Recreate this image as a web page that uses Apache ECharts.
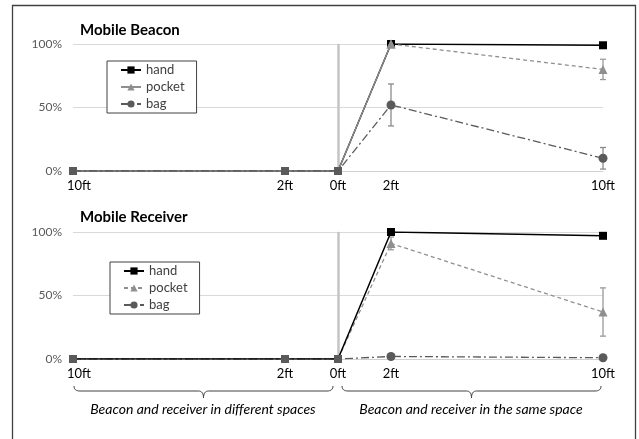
<!DOCTYPE html>
<html>
<head>
<meta charset="utf-8">
<script src="https://cdn.jsdelivr.net/npm/echarts@6/dist/echarts.min.js"></script>
<style>html,body{margin:0;padding:0;background:#fff;}#c{width:639px;height:439px;}</style>
</head>
<body>
<div id="c"></div>
<script>
// ---- data ----
const xVals = [-10, -2, 0, 2, 10];
const tickLabels = ['10ft', '2ft', '0ft', '2ft', '10ft'];
const yTicks = [0, 50, 100];
const seriesNames = ['hand', 'pocket', 'bag'];

const beaconHand = [0, 0, 0, 100, 99];
const beaconPocket = [0, 0, 0, 100, 80];
const beaconBag = [0, 0, 0, 52, 10];
const beaconPocketErr = [0, 0, 0, 0, 8];
const beaconBagErr = [0, 0, 0, 16.5, 8.5];

const receiverHand = [0, 0, 0, 100, 97];
const receiverPocket = [0, 0, 0, 91, 37];
const receiverBag = [0, 0, 0, 2, 1];
const receiverPocketErr = [0, 0, 0, 5, 19];
const receiverBagErr = [0, 0, 0, 0, 0];

const titles = ['Mobile Beacon', 'Mobile Receiver'];
const groupLabels = ['Beacon and receiver in different spaces', 'Beacon and receiver in the same space'];

// ---- styles ----
const FONT = 'Lato, "Open Sans", sans-serif';
const C_HAND = '#000000', C_POCKET = '#8f8f8f', C_BAG = '#5a5a5a', C_SEP = '#5a5a5a';

function pts(vals, idxFrom, idxTo, hideSep, sepColor) {
  const out = [];
  for (let i = idxFrom; i <= idxTo; i++) {
    const d = { value: [xVals[i], vals[i]] };
    if (xVals[i] <= 0) {
      if (hideSep) d.symbol = 'none';
      else if (sepColor) d.itemStyle = { color: sepColor };
    }
    out.push(d);
  }
  return out;
}
function errData(vals, errs) {
  const out = [];
  xVals.forEach((x, i) => { if (errs[i] > 0) out.push([x, vals[i] - errs[i], vals[i] + errs[i]]); });
  return out;
}
function errSeries(idx, vals, errs, color) {
  return {
    type: 'custom', xAxisIndex: idx, yAxisIndex: idx, z: 1,
    data: errData(vals, errs),
    renderItem: function (params, api) {
      const x = api.value(0);
      const lo = api.coord([x, api.value(1)]);
      const hi = api.coord([x, api.value(2)]);
      const w = 3;
      const st = { stroke: color, lineWidth: 1.3 };
      return { type: 'group', children: [
        { type: 'line', shape: { x1: lo[0], y1: lo[1], x2: hi[0], y2: hi[1] }, style: st },
        { type: 'line', shape: { x1: lo[0] - w, y1: lo[1], x2: lo[0] + w, y2: lo[1] }, style: st },
        { type: 'line', shape: { x1: hi[0] - w, y1: hi[1], x2: hi[0] + w, y2: hi[1] }, style: st }
      ]};
    }
  };
}

const grids = [
  { left: 73, top: 44, width: 530, height: 127 },
  { left: 73, top: 232, width: 530, height: 127 }
];

function xAxis(idx) {
  return {
    type: 'value', gridIndex: idx, min: -10, max: 10, interval: 2,
    axisLine: { show: true, lineStyle: { color: '#d0d0d0', width: 1 } },
    axisTick: { show: false }, splitLine: { show: false },
    axisLabel: {
      color: '#000', fontFamily: FONT, fontSize: 13, margin: 8,
      formatter: function (v) {
        const i = xVals.indexOf(v);
        if (i < 0) return '';
        return i === 0 ? '{l|' + tickLabels[i] + '}' : tickLabels[i];
      },
      rich: { l: { padding: [0, 0, 0, 12], fontFamily: FONT, fontSize: 13, color: '#000' } }
    }
  };
}
function yAxis(idx) {
  return {
    type: 'value', gridIndex: idx, min: yTicks[0], max: yTicks[yTicks.length - 1], interval: yTicks[1] - yTicks[0],
    axisLine: { show: true, lineStyle: { color: '#d9d9d9' } },
    axisTick: { show: false },
    splitLine: { show: true, lineStyle: { color: '#d9d9d9' } },
    axisLabel: { color: '#595959', fontFamily: FONT, fontSize: 12, margin: 11, formatter: '{value}%' }
  };
}
const sepLine = {
  silent: true, symbol: 'none', label: { show: false },
  lineStyle: { color: '#c4c4c4', width: 2.5, type: 'solid' },
  data: [{ xAxis: 0 }]
};

const handLine = { color: C_HAND, width: 1.5, type: 'solid' };
const pocketSolid = { color: C_POCKET, width: 1.3, type: 'solid' };
const pocketDash = { color: C_POCKET, width: 1.3, type: [4, 3] };
const bagDash = { color: C_BAG, width: 1.3, type: [8, 3, 2, 3] };

const series = [
  // ---- Mobile Beacon ----
  { name: 'hand', type: 'line', xAxisIndex: 0, yAxisIndex: 0, symbol: 'rect', symbolSize: 8,
    data: pts(beaconHand, 0, 4, false, C_SEP), itemStyle: { color: C_HAND }, lineStyle: handLine, z: 3, markLine: sepLine },
  { name: 'pocket', type: 'line', xAxisIndex: 0, yAxisIndex: 0, symbol: 'triangle', symbolSize: 9,
    data: pts(beaconPocket, 0, 3, true), itemStyle: { color: C_POCKET }, lineStyle: pocketSolid, z: 3 },
  { name: 'pocket', type: 'line', xAxisIndex: 0, yAxisIndex: 0, symbol: 'triangle', symbolSize: 9,
    data: pts(beaconPocket, 3, 4, true), itemStyle: { color: C_POCKET }, lineStyle: pocketDash, z: 3 },
  { name: 'bag', type: 'line', xAxisIndex: 0, yAxisIndex: 0, symbol: 'circle', symbolSize: 9,
    data: pts(beaconBag, 0, 4, true), itemStyle: { color: C_BAG }, lineStyle: bagDash, z: 3 },
  errSeries(0, beaconPocket, beaconPocketErr, '#9a9a9a'),
  errSeries(0, beaconBag, beaconBagErr, '#8a8a8a'),
  // ---- Mobile Receiver ----
  { name: 'R-pocket', type: 'line', xAxisIndex: 1, yAxisIndex: 1, symbol: 'triangle', symbolSize: 9,
    data: pts(receiverPocket, 0, 4, true), itemStyle: { color: C_POCKET }, lineStyle: pocketDash, z: 3 },
  { name: 'R-bag', type: 'line', xAxisIndex: 1, yAxisIndex: 1, symbol: 'circle', symbolSize: 9,
    data: pts(receiverBag, 0, 4, true), itemStyle: { color: C_BAG }, lineStyle: bagDash, z: 3 },
  { name: 'R-hand', type: 'line', xAxisIndex: 1, yAxisIndex: 1, symbol: 'rect', symbolSize: 8,
    data: pts(receiverHand, 0, 4, false, C_SEP), itemStyle: { color: C_HAND }, lineStyle: handLine, z: 4, markLine: sepLine },
  errSeries(1, receiverPocket, receiverPocketErr, '#9a9a9a'),
  errSeries(1, receiverBag, receiverBagErr, '#8a8a8a')
];
series.forEach(s => {
  if (s.type === 'line') {
    s.animation = false; s.emphasis = { disabled: true };
    if (s.markLine) s.markLine.z = 2;
  }
});

function legend(top, left, names) {
  return {
    orient: 'vertical', left: left, top: top,
    data: names,
    backgroundColor: '#fff', borderColor: '#404040', borderWidth: 1,
    padding: [2, 12, 2, 13], itemGap: 3, itemWidth: 20, itemHeight: 9,
    selectedMode: false,
    textStyle: { fontFamily: FONT, fontSize: 13, color: '#404040', lineHeight: 14 },
    formatter: n => n.replace(/^R-/, '')
  };
}

// quadratic curve sampling for brace outline
function quad(p0, p1, p2, n, out) {
  for (let k = 1; k <= n; k++) {
    const t = k / n, u = 1 - t;
    out.push([u * u * p0[0] + 2 * u * t * p1[0] + t * t * p2[0], u * u * p0[1] + 2 * u * t * p1[1] + t * t * p2[1]]);
  }
}
function brace(x1, x2, y) {
  const m = (x1 + x2) / 2;
  const p = [[x1, y - 5]];
  quad([x1, y - 5], [x1, y], [x1 + 6, y], 8, p);
  p.push([m - 5, y]);
  quad([m - 5, y], [m, y], [m, y + 7], 8, p);
  quad([m, y + 7], [m, y], [m + 5, y], 8, p);
  p.push([x2 - 6, y]);
  quad([x2 - 6, y], [x2, y], [x2, y - 5], 8, p);
  return p;
}

const chart = echarts.init(document.getElementById('c'), null, { renderer: 'canvas' });
chart.setOption({
  animation: false,
  backgroundColor: '#fff',
  title: [
    { text: titles[0], left: 75, top: 18, textStyle: { fontFamily: FONT, fontSize: 15, fontWeight: 'bold', color: '#000' } },
    { text: titles[1], left: 75, top: 205, textStyle: { fontFamily: FONT, fontSize: 15, fontWeight: 'bold', color: '#000' } }
  ],
  grid: grids,
  xAxis: [xAxis(0), xAxis(1)],
  yAxis: [yAxis(0), yAxis(1)],
  legend: [legend(61, 107, seriesNames), legend(262, 110, seriesNames.map(n => 'R-' + n))],
  series: series,
  graphic: [
    { type: 'rect', shape: { x: 12.5, y: 5.5, width: 623, height: 450 }, style: { fill: 'none', stroke: '#404040', lineWidth: 1.3 }, z: 100, silent: true },
    { type: 'polyline', shape: { points: brace(74, 333, 391) }, style: { fill: 'none', stroke: '#404040', lineWidth: 1 }, silent: true },
    { type: 'polyline', shape: { points: brace(342, 601, 391) }, style: { fill: 'none', stroke: '#404040', lineWidth: 1 }, silent: true },
    { type: 'text', x: 203, y: 409, style: { text: groupLabels[0], font: 'italic 14px ' + FONT, fill: '#000', align: 'center', verticalAlign: 'middle' }, silent: true },
    { type: 'text', x: 471, y: 409, style: { text: groupLabels[1], font: 'italic 14px ' + FONT, fill: '#000', align: 'center', verticalAlign: 'middle' }, silent: true }
  ]
});
</script>
</body>
</html>
